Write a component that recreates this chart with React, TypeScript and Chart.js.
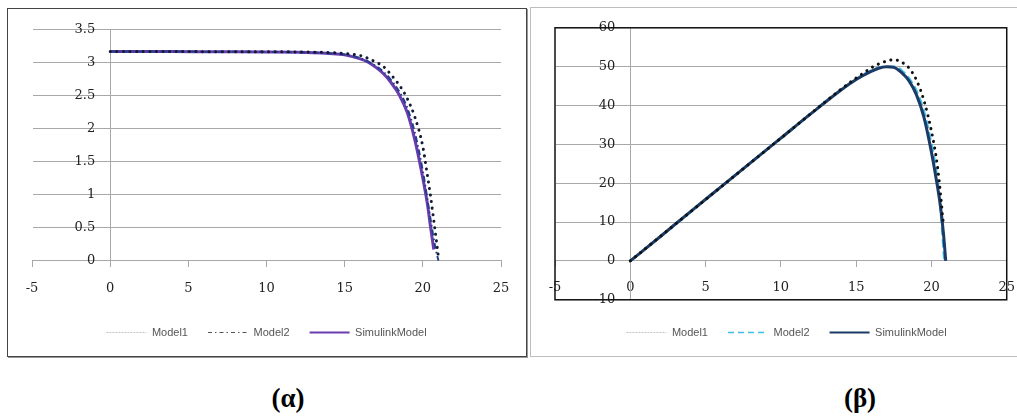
import React, { useEffect, useRef } from 'react';
import { Chart, registerables } from 'chart.js';

Chart.register(...registerables);

// ---------- data ----------
const SERIES_NAMES = ['Model1', 'Model2', 'SimulinkModel'];

// (α) I-V curves
const IV_M1_V = [0, 4, 8, 12, 14, 15, 16, 17, 17.5, 18, 18.5, 19, 19.5, 20, 20.25, 20.5, 20.75, 21];
const IV_M1_I = [3.17, 3.17, 3.168, 3.165, 3.155, 3.14, 3.11, 3.01, 2.94, 2.81, 2.66, 2.46, 2.17, 1.73, 1.36, 0.97, 0.52, 0.05];
const IV_M2_V = [0, 4, 8, 12, 14, 15, 16, 17, 17.5, 18, 18.5, 19, 19.5, 20, 20.5, 20.8, 21];
const IV_M2_I = [3.17, 3.17, 3.167, 3.16, 3.145, 3.125, 3.07, 2.95, 2.86, 2.73, 2.56, 2.32, 1.93, 1.36, 0.62, 0.2, 0.0];
const IV_SIM_V = [0, 2, 4, 6, 8, 10, 12, 13, 14, 15, 16, 16.5, 17, 17.5, 18, 18.5, 19, 19.5, 20, 20.3, 20.5, 20.7];
const IV_SIM_I = [3.17, 3.17, 3.17, 3.168, 3.166, 3.163, 3.158, 3.152, 3.14, 3.12, 3.06, 3.01, 2.93, 2.83, 2.69, 2.51, 2.25, 1.82, 1.25, 0.85, 0.5, 0.17];
const IV_X_TICKS = [-5, 0, 5, 10, 15, 20, 25];
const IV_Y_TICKS = [0, 0.5, 1, 1.5, 2, 2.5, 3, 3.5];

// (β) P-V curves
const PV_M1_V = [0, 5, 10, 14, 15, 15.5, 16, 16.5, 17, 17.5, 18, 18.5, 19, 19.5, 20, 20.4, 20.6, 20.8];
const PV_M1_P = [0, 15.8, 31.6, 44.2, 47.1, 48.4, 49.7, 50.7, 51.4, 51.8, 51.2, 49.7, 46.6, 41.3, 33.4, 24.4, 17.3, 9.2];
const PV_M2_V = [0, 5, 10, 14, 15, 16, 17, 17.5, 18, 18.5, 19, 19.5, 20, 20.3, 20.6, 20.86];
const PV_M2_P = [0, 15.8, 31.6, 44.1, 46.8, 49.0, 50.0, 50.0, 49.1, 47.0, 43.8, 38.5, 30.0, 23.5, 13.5, 0];
const PV_SIM_V = [0, 2, 4, 6, 8, 10, 12, 14, 15, 16, 16.5, 17, 17.5, 18, 18.5, 19, 19.5, 20, 20.3, 20.6, 20.8, 20.95];
const PV_SIM_P = [0, 6.3, 12.7, 19, 25.3, 31.6, 37.9, 44, 46.7, 48.8, 49.6, 50.0, 49.8, 48.5, 46.4, 42.8, 37.0, 28.0, 21.5, 14, 7, 0];
const PV_X_TICKS = [-5, 0, 5, 10, 15, 20, 25];
const PV_Y_TICKS = [-10, 0, 10, 20, 30, 40, 50, 60];

const LABEL_A = '(α)';
const LABEL_B = '(β)';

// ---------- helpers ----------
const pts = (xs: number[], ys: number[]) => xs.map((x, i) => ({ x, y: ys[i] }));

const TICK_FONT = { family: 'DejaVu Serif', size: 13 };
const GRID_COLOR = '#a8a8a8';

// frame around the plot area + y axis placed where x = 0 (Excel style crossing)
const framePlugin = {
  id: 'plotFrame',
  afterLayout(chart: any) {
    const xs = chart.scales.x;
    const ys = chart.scales.y;
    const px = xs.getPixelForValue(0);
    ys.left = Math.max(0, px - 90);
    ys.right = px;
    ys.width = ys.right - ys.left;
  },
  beforeDatasetsDraw(chart: any, _args: any, opts: any) {
    if (!opts || !opts.enabled) return;
    const { ctx, chartArea } = chart;
    ctx.save();
    ctx.strokeStyle = '#111';
    ctx.lineWidth = 1.5;
    ctx.strokeRect(chartArea.left, chartArea.top, chartArea.right - chartArea.left, chartArea.bottom - chartArea.top);
    ctx.restore();
  },
};

function buildOptions(cfg: any) {
  return {
    responsive: false,
    animation: false,
    layout: { padding: cfg.padding },
    plugins: {
      plotFrame: { enabled: cfg.frame },
      tooltip: { enabled: false },
      legend: {
        position: 'bottom',
        title: { display: true, text: '', font: { size: 1 }, padding: { top: cfg.legendGap, bottom: 0 } },
        labels: {
          usePointStyle: true,
          pointStyle: 'line',
          pointStyleWidth: 40,
          padding: 20,
          color: '#555',
          font: { family: 'Liberation Sans', size: 11 },
          sort: (a: any, b: any) => SERIES_NAMES.indexOf(a.text) - SERIES_NAMES.indexOf(b.text),
          generateLabels: (chart: any) => {
            const items = (Chart.defaults.plugins.legend.labels as any).generateLabels(chart);
            return items.map((it: any) => ({ ...it, ...(cfg.legendStyle[it.text] || {}) }));
          },
        },
      },
    },
    scales: {
      x: {
        type: 'linear',
        min: cfg.xTicks[0],
        max: cfg.xTicks[cfg.xTicks.length - 1],
        position: { y: 0 },
        afterBuildTicks: (s: any) => { s.ticks = cfg.xTicks.map((v: number) => ({ value: v })); },
        grid: { drawOnChartArea: false, drawTicks: true, tickLength: 6, color: GRID_COLOR },
        border: { display: true, color: GRID_COLOR },
        ticks: { font: TICK_FONT, color: '#222', padding: cfg.xPad, maxRotation: 0, callback: (v: any) => String(v) },
      },
      y: {
        type: 'linear',
        min: cfg.yTicks[0],
        max: cfg.yTicks[cfg.yTicks.length - 1],
        position: 'left',
        afterBuildTicks: (s: any) => { s.ticks = cfg.yTicks.map((v: number) => ({ value: v })); },
        afterFit: (s: any) => { s.width = 0; },
        grid: { color: GRID_COLOR, drawTicks: false },
        border: { display: true, color: GRID_COLOR },
        ticks: { font: TICK_FONT, color: '#222', padding: 15, callback: (v: any) => String(v) },
      },
    },
  };
}

function ChartBox(props: { config: any; width: number; height: number; shift: number }) {
  const ref = useRef<HTMLCanvasElement | null>(null);
  useEffect(() => {
    if (!ref.current) return;
    const chart = new Chart(ref.current, { ...props.config, plugins: [framePlugin] });
    return () => chart.destroy();
  }, []);
  return (
    <canvas
      ref={ref}
      width={props.width}
      height={props.height}
      style={{ display: 'block', position: 'absolute', left: 0, top: -props.shift }}
    />
  );
}

const dots = { borderDash: [0.1, 6.5], borderCapStyle: 'round', borderWidth: 3 };

const ivConfig = {
  type: 'line',
  data: {
    datasets: [
      { label: SERIES_NAMES[0], data: pts(IV_M1_V, IV_M1_I), borderColor: '#141a33', ...dots, pointRadius: 0, cubicInterpolationMode: 'monotone', order: 1 },
      { label: SERIES_NAMES[1], data: pts(IV_M2_V, IV_M2_I), borderColor: '#23408a', borderWidth: 2, borderDash: [6, 3, 1.5, 3], pointRadius: 0, cubicInterpolationMode: 'monotone', order: 2 },
      { label: SERIES_NAMES[2], data: pts(IV_SIM_V, IV_SIM_I), borderColor: '#6a3cb0', borderWidth: 3, pointRadius: 0, cubicInterpolationMode: 'monotone', order: 3 },
    ],
  },
  options: buildOptions({
    padding: { left: 24, right: 25, top: 16, bottom: 8 },
    legendGap: 45,
    frame: false,
    xTicks: IV_X_TICKS,
    yTicks: IV_Y_TICKS,
    xPad: 14,
    legendStyle: {
      Model1: { strokeStyle: '#c4c4c4', lineWidth: 1, lineDash: [2, 1], lineCap: 'butt' },
      Model2: { strokeStyle: '#555', lineWidth: 1.2, lineDash: [4, 3, 1.5, 3], lineCap: 'butt' },
      SimulinkModel: { strokeStyle: '#6a3cb0', lineWidth: 2 },
    },
  }),
};

const pvConfig = {
  type: 'line',
  data: {
    datasets: [
      { label: SERIES_NAMES[0], data: pts(PV_M1_V, PV_M1_P), borderColor: '#111', ...dots, pointRadius: 0, cubicInterpolationMode: 'monotone', order: 1 },
      { label: SERIES_NAMES[1], data: pts(PV_M2_V, PV_M2_P), borderColor: '#3cbfe8', borderWidth: 2.5, borderDash: [8, 4], pointRadius: 0, cubicInterpolationMode: 'monotone', order: 3 },
      { label: SERIES_NAMES[2], data: pts(PV_SIM_V, PV_SIM_P), borderColor: '#1b3a66', borderWidth: 3, pointRadius: 0, cubicInterpolationMode: 'monotone', order: 2 },
    ],
  },
  options: buildOptions({
    padding: { left: 24, right: 10, top: 15, bottom: 8 },
    legendGap: 6,
    frame: true,
    xTicks: PV_X_TICKS,
    yTicks: PV_Y_TICKS,
    xPad: 13,
    legendStyle: {
      Model1: { strokeStyle: '#c4c4c4', lineWidth: 1, lineDash: [2, 1], lineCap: 'butt' },
      Model2: { strokeStyle: '#3cbfe8', lineWidth: 1.5, lineDash: [6, 4], lineCap: 'butt' },
      SimulinkModel: { strokeStyle: '#1b3a66', lineWidth: 2 },
    },
  }),
};

export default function App() {
  const caption: React.CSSProperties = {
    position: 'absolute', top: 382, width: 100, textAlign: 'center',
    fontFamily: 'Liberation Serif', fontWeight: 'bold', fontSize: 27, lineHeight: '32px', color: '#000',
  };
  return (
    <div style={{ position: 'absolute', left: 0, top: 0, width: 1017, height: 417, background: '#fff', overflow: 'hidden' }}>
      <div style={{ position: 'absolute', left: 7, top: 8, width: 520, height: 349, boxSizing: 'border-box', border: '1px solid #444', boxShadow: '1px 1px 0 #999' }}>
        <ChartBox config={ivConfig} width={518} height={349} shift={2} />
      </div>
      <div style={{ position: 'absolute', left: 530, top: 7, width: 500, height: 350, boxSizing: 'border-box', border: '1px solid #bdbdbd' }}>
        <ChartBox config={pvConfig} width={497} height={351} shift={3} />
      </div>
      <div style={{ ...caption, left: 238 }}>{LABEL_A}</div>
      <div style={{ ...caption, left: 810 }}>{LABEL_B}</div>
    </div>
  );
}
